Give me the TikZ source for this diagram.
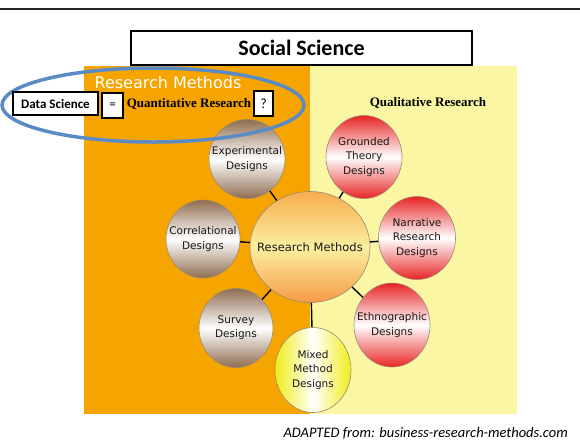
\documentclass[tikz,border=0pt]{standalone}
\usepackage{fontspec}
\newfontfamily\verd{DejaVu Sans}
\newfontfamily\calib{Carlito}
\newfontfamily\tnr{Liberation Serif}
\usetikzlibrary{shapes.geometric}

\definecolor{panelorange}{HTML}{F6A500}
\definecolor{panelyellow}{HTML}{FAF6A4}
\definecolor{ringblue}{HTML}{5B8BC5}
\definecolor{brownshade}{HTML}{8F6D50}
\definecolor{redshade}{HTML}{E82424}
\definecolor{mixyellow}{HTML}{F0EC1A}
\definecolor{coreorange}{HTML}{F6AD4E}
\definecolor{corepale}{HTML}{FBEFA0}
\definecolor{rimgray}{HTML}{9A8A72}

\tikzset{
  bubble/.style={ellipse, draw=rimgray, line width=0.6pt, inner sep=0pt},
  quant/.style={bubble, top color=brownshade, bottom color=brownshade, middle color=white},
  qual/.style={bubble, top color=redshade, bottom color=redshade, middle color=white},
  mixed/.style={bubble, left color=mixyellow, right color=mixyellow, middle color=white},
  core/.style={bubble, top color=coreorange, bottom color=coreorange!90!red, middle color=corepale},
  bubtext/.style={align=center, inner sep=0pt, text=black!90,
    font=\verd\fontsize{10.5}{14.2}\selectfont},
  coretext/.style={bubtext, font=\verd\fontsize{11.5}{14}\selectfont},
  link/.style={draw=black, line width=1.4pt},
  tag/.style={draw=black, line width=1.3pt, fill=white, inner sep=0pt,
    font=\calib\bfseries\fontsize{13}{15}\selectfont},
  heading/.style={font=\tnr\bfseries\fontsize{13}{15}\selectfont, inner sep=0pt},
}

\begin{document}
\begin{tikzpicture}[x=1pt, y=-1pt]
  \useasboundingbox (0,0) rectangle (580,440);
  \fill[white] (0,0) rectangle (580,440);

  % top rule
  \draw[line width=2pt, black!85] (0,8.5) -- (580,8.5);

  % two panels
  \fill[panelorange] (84,66) rectangle (310,414);
  \fill[panelyellow] (310,66) rectangle (517,414);

  % title box
  \node[draw=black, line width=1.3pt, fill=white, minimum width=341pt, minimum height=34pt,
        font=\calib\bfseries\fontsize{22}{24}\selectfont] (social) at (301.5,48) {Social Science};

  % panel headings
  \node[font=\verd\fontsize{16}{18}\selectfont, text=white, inner sep=0pt] (rmtitle) at (168,83) {Research Methods};
  \node[heading] (quanthead) at (189,104) {Quantitative Research};
  \node[heading] (qualhead) at (428,103) {Qualitative Research};

  % bubbles (shapes first, captions on top)
  \node[core, minimum width=120pt, minimum height=111pt] (core) at (310,247) {};
  \node[quant, minimum width=76pt, minimum height=79pt] (exp) at (247,159) {};
  \node[quant, minimum width=74pt, minimum height=78pt] (corr) at (203,239) {};
  \node[quant, minimum width=74pt, minimum height=79pt] (surv) at (236,328) {};
  \node[mixed, minimum width=76pt, minimum height=85pt] (mix) at (313,370) {};
  \node[qual, minimum width=76pt, minimum height=84pt] (ethno) at (392,325) {};
  \node[qual, minimum width=77pt, minimum height=83pt] (narr) at (417,238) {};
  \node[qual, minimum width=76pt, minimum height=83pt] (ground) at (364,157) {};

  \node[coretext] (coretxt) at (core) {Research Methods};
  \node[bubtext] (exptxt) at (exp) {Experimental\\Designs};
  \node[bubtext] (corrtxt) at (corr) {Correlational\\Designs};
  \node[bubtext] (survtxt) at (surv) {Survey\\Designs};
  \node[bubtext] (mixtxt) at (mix) {Mixed\\Method\\Designs};
  \node[bubtext] (ethnotxt) at (ethno) {Ethnographic\\Designs};
  \node[bubtext] (narrtxt) at (narr) {Narrative\\Research\\Designs};
  \node[bubtext] (groundtxt) at (ground) {Grounded\\Theory\\Designs};

  % spokes
  \foreach \s in {exp, corr, surv, mix, ethno, narr, ground}
    \draw[link] (core) -- (\s);

  % highlight ring
  \draw[ringblue, line width=3.5pt] (153,105) ellipse [x radius=151pt, y radius=37pt];

  % equation tags
  \node[tag, minimum width=85pt, minimum height=23pt] (ds) at (55.5,103.5) {Data Science};
  \node[tag, minimum width=21pt, minimum height=25pt, font=\calib\fontsize{13}{15}\selectfont] (eq) at (112.5,105.5) {=};
  \node[tag, minimum width=19pt, minimum height=25pt, font=\calib\fontsize{14}{16}\selectfont] (qm) at (263.5,103.5) {?};

  % source line
  \node[anchor=base east, inner sep=0pt, font=\calib\itshape\fontsize{14.5}{16}\selectfont] (src) at (568,437)
    {ADAPTED from: business-research-methods.com};
\end{tikzpicture}
\end{document}
